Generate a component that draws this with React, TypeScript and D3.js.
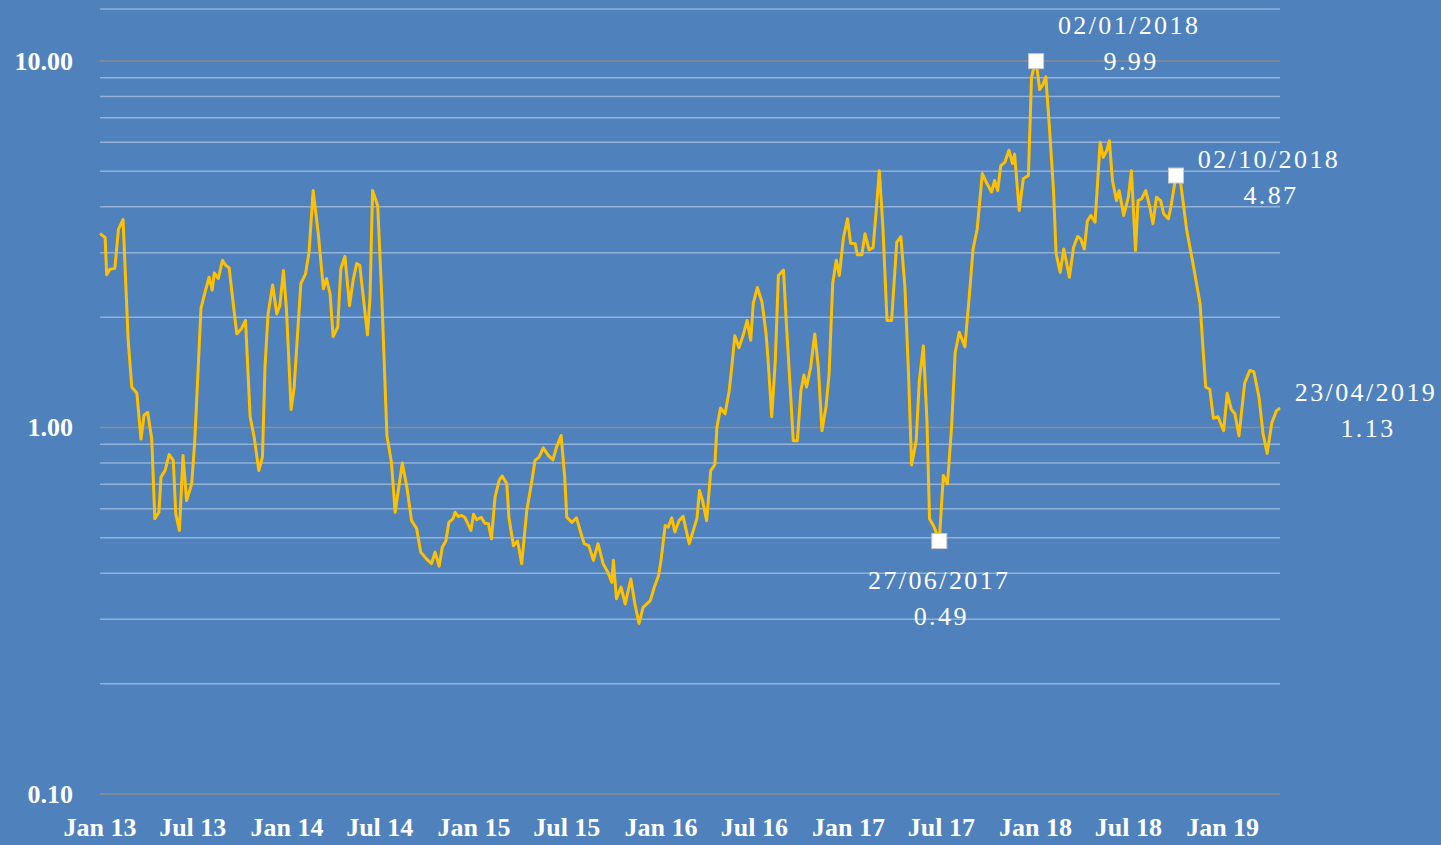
import { useEffect, useRef } from 'react';
import * as d3 from 'd3';

// weekly reading, traced at the turning points
const dates = [
  '2013-01-01', '2013-01-11', '2013-01-14', '2013-01-20', '2013-01-30', '2013-02-06', '2013-02-15', '2013-02-25',
  '2013-03-04', '2013-03-14', '2013-03-22', '2013-03-28', '2013-04-04', '2013-04-12', '2013-04-18', '2013-04-26',
  '2013-04-30', '2013-05-08', '2013-05-16', '2013-05-24', '2013-05-29', '2013-06-05', '2013-06-12', '2013-06-19',
  '2013-06-29', '2013-07-05', '2013-07-12', '2013-07-17', '2013-07-25', '2013-08-02', '2013-08-08', '2013-08-12',
  '2013-08-20', '2013-08-28', '2013-09-03', '2013-09-10', '2013-09-18', '2013-09-25', '2013-10-04', '2013-10-12',
  '2013-10-21', '2013-10-29', '2013-11-07', '2013-11-14', '2013-11-19', '2013-11-25', '2013-12-04', '2013-12-12',
  '2013-12-18', '2013-12-25', '2013-12-31',
  '2014-01-09', '2014-01-15', '2014-01-22', '2014-01-28', '2014-02-06', '2014-02-13', '2014-02-21', '2014-03-03',
  '2014-03-13', '2014-03-19', '2014-03-26', '2014-04-01', '2014-04-10', '2014-04-16', '2014-04-24', '2014-05-03',
  '2014-05-10', '2014-05-17', '2014-05-23', '2014-06-07', '2014-06-12', '2014-06-17', '2014-06-27', '2014-07-05',
  '2014-07-15', '2014-07-24', '2014-07-31', '2014-08-14', '2014-08-23', '2014-09-01', '2014-09-11', '2014-09-19',
  '2014-09-30', '2014-10-10', '2014-10-17', '2014-10-25', '2014-10-31', '2014-11-07', '2014-11-13', '2014-11-21',
  '2014-11-25', '2014-12-01', '2014-12-08', '2014-12-14', '2014-12-26', '2014-12-31',
  '2015-01-06', '2015-01-15', '2015-01-22', '2015-01-29', '2015-02-04', '2015-02-11', '2015-02-19', '2015-02-25',
  '2015-03-06', '2015-03-10', '2015-03-19', '2015-03-27', '2015-04-04', '2015-04-14', '2015-04-24', '2015-04-30',
  '2015-05-08', '2015-05-16', '2015-05-26', '2015-06-04', '2015-06-11', '2015-06-20', '2015-06-27', '2015-07-01',
  '2015-07-11', '2015-07-20', '2015-07-27', '2015-08-04', '2015-08-13', '2015-08-22', '2015-08-31', '2015-09-10',
  '2015-09-19', '2015-09-27', '2015-09-30', '2015-10-06', '2015-10-15', '2015-10-23', '2015-11-03', '2015-11-11',
  '2015-11-19', '2015-11-27', '2015-12-11', '2015-12-19', '2015-12-27',
  '2016-01-01', '2016-01-09', '2016-01-15', '2016-01-22', '2016-01-28', '2016-02-05', '2016-02-13', '2016-02-25',
  '2016-03-04', '2016-03-11', '2016-03-16', '2016-03-22', '2016-03-30', '2016-04-07', '2016-04-15', '2016-04-19',
  '2016-04-26', '2016-05-05', '2016-05-13', '2016-05-18', '2016-05-24', '2016-06-01', '2016-06-10', '2016-06-17',
  '2016-06-24', '2016-06-29', '2016-07-07', '2016-07-16', '2016-07-24', '2016-07-28', '2016-08-04', '2016-08-11',
  '2016-08-17', '2016-08-27', '2016-09-02', '2016-09-09', '2016-09-15', '2016-09-23', '2016-09-30', '2016-10-06',
  '2016-10-11', '2016-10-19', '2016-10-27', '2016-11-03', '2016-11-10', '2016-11-18', '2016-11-24', '2016-12-01',
  '2016-12-08', '2016-12-14', '2016-12-22', '2016-12-30',
  '2017-01-05', '2017-01-14', '2017-01-18', '2017-01-27', '2017-02-02', '2017-02-10', '2017-02-18', '2017-02-25',
  '2017-03-02', '2017-03-09', '2017-03-17', '2017-03-26', '2017-04-05', '2017-04-13', '2017-04-21', '2017-04-28',
  '2017-05-04', '2017-05-13', '2017-05-19', '2017-05-27', '2017-06-03', '2017-06-08', '2017-06-17', '2017-06-27',
  '2017-07-05', '2017-07-13', '2017-07-21', '2017-07-28', '2017-08-05', '2017-08-16', '2017-08-25', '2017-09-01',
  '2017-09-09', '2017-09-19', '2017-09-27', '2017-10-07', '2017-10-13', '2017-10-19', '2017-10-25', '2017-11-02',
  '2017-11-10', '2017-11-17', '2017-11-21', '2017-11-30', '2017-12-08', '2017-12-18', '2017-12-24', '2017-12-27',
  '2018-01-02', '2018-01-09', '2018-01-15', '2018-01-21', '2018-01-28', '2018-02-05', '2018-02-10', '2018-02-18',
  '2018-02-25', '2018-03-08', '2018-03-16', '2018-03-24', '2018-03-30', '2018-04-06', '2018-04-12', '2018-04-19',
  '2018-04-27', '2018-05-07', '2018-05-13', '2018-05-20', '2018-05-25', '2018-05-31', '2018-06-08', '2018-06-13',
  '2018-06-22', '2018-07-01', '2018-07-07', '2018-07-15', '2018-07-20', '2018-07-27', '2018-08-04', '2018-08-12',
  '2018-08-18', '2018-08-25', '2018-09-02', '2018-09-08', '2018-09-17', '2018-09-22', '2018-10-02', '2018-10-11',
  '2018-10-23', '2018-11-03', '2018-11-18', '2018-11-24', '2018-11-29', '2018-12-07', '2018-12-14', '2018-12-23',
  '2019-01-03', '2019-01-10', '2019-01-18', '2019-01-25', '2019-02-02', '2019-02-13', '2019-02-23', '2019-03-03',
  '2019-03-13', '2019-03-21', '2019-03-29', '2019-04-07', '2019-04-16', '2019-04-23',
];

const values = [
  3.38, 3.30, 2.61, 2.70, 2.72, 3.47, 3.69, 1.73,
  1.29, 1.24, 0.93, 1.08, 1.10, 0.93, 0.564, 0.587,
  0.732, 0.763, 0.844, 0.813, 0.58, 0.524, 0.839, 0.632,
  0.702, 0.921, 1.49, 2.11, 2.34, 2.57, 2.37, 2.64,
  2.55, 2.86, 2.77, 2.73, 2.18, 1.80, 1.86, 1.96,
  1.07, 0.94, 0.763, 0.83, 1.46, 2.04, 2.45, 2.04,
  2.15, 2.68, 2.09,
  1.12, 1.29, 1.84, 2.47, 2.62, 3.01, 4.43, 3.38,
  2.39, 2.55, 2.32, 1.77, 1.88, 2.71, 2.93, 2.15,
  2.52, 2.80, 2.77, 1.79, 2.27, 4.43, 4.03, 2.27,
  0.95, 0.80, 0.587, 0.80, 0.687, 0.557, 0.53, 0.457,
  0.438, 0.425, 0.457, 0.418, 0.471, 0.49, 0.551, 0.564,
  0.587, 0.572, 0.575, 0.569, 0.524, 0.58,
  0.56, 0.569, 0.548, 0.546, 0.497, 0.646, 0.717, 0.737,
  0.702, 0.569, 0.476, 0.49, 0.425, 0.594, 0.717, 0.813,
  0.83, 0.88, 0.839, 0.816, 0.884, 0.951, 0.732, 0.569,
  0.551, 0.567, 0.524, 0.482, 0.476, 0.434, 0.482, 0.425,
  0.403, 0.378, 0.434, 0.341, 0.367, 0.33, 0.386, 0.33,
  0.292, 0.323, 0.337, 0.367, 0.394,
  0.434, 0.54, 0.535, 0.567, 0.519, 0.557, 0.572, 0.482,
  0.524, 0.564, 0.673, 0.632, 0.557, 0.763, 0.792, 1.0,
  1.13, 1.09, 1.26, 1.46, 1.78, 1.65, 1.80, 1.96,
  1.73, 2.18, 2.41, 2.20, 1.80, 1.52, 1.07, 1.52,
  2.60, 2.69, 1.88, 1.29, 0.92, 0.92, 1.26, 1.39,
  1.29, 1.46, 1.80, 1.46, 0.98, 1.14, 1.40, 2.47,
  2.86, 2.60, 3.30, 3.71,
  3.18, 3.17, 2.96, 2.96, 3.38, 3.05, 3.10, 4.08,
  5.02, 3.52, 1.96, 1.96, 3.20, 3.32, 2.41, 1.40,
  0.79, 0.92, 1.34, 1.67, 1.04, 0.564, 0.535, 0.49,
  0.74, 0.702, 1.0, 1.60, 1.82, 1.66, 2.32, 3.07,
  3.48, 4.93, 4.66, 4.39, 4.72, 4.43, 5.18, 5.29,
  5.71, 5.25, 5.57, 3.91, 4.77, 4.87, 9.0, 9.4,
  9.99, 8.36, 8.6, 9.05, 6.59, 4.43, 2.98, 2.65,
  3.07, 2.57, 3.10, 3.32, 3.27, 3.07, 3.66, 3.79,
  3.63, 6.0, 5.46, 5.70, 6.06, 4.72, 4.16, 4.43,
  3.79, 4.25, 5.02, 3.04, 4.16, 4.21, 4.43, 3.99,
  3.60, 4.25, 4.16, 3.83, 3.71, 3.99, 4.87, 4.66,
  3.45, 2.86, 2.18, 1.62, 1.29, 1.27, 1.06, 1.07,
  0.98, 1.24, 1.12, 1.09, 0.95, 1.32, 1.43, 1.42,
  1.21, 0.96, 0.85, 1.03, 1.11, 1.13,
];

const yTickValues = [0.1, 1, 10];
const markedDates = ['2017-06-27', '2018-01-02', '2018-10-02'];
const labelledDates = ['2017-06-27', '2018-01-02', '2018-10-02', '2019-04-23'];

// label offsets from the point: [dx, dy of date line, dy of value line]
const labelOffsets: Record<string, [number, number, number]> = {
  '2017-06-27': [0, 39, 75],
  '2018-01-02': [93, -36, 0],
  '2018-10-02': [93, -16, 20],
  '2019-04-23': [86, -16, 20],
};

const W = 1441;
const H = 845;

const App = () => {
  const svgRef = useRef<SVGSVGElement>(null);

  useEffect(() => {
    if (!svgRef.current) return;
    document.body.style.margin = '0';

    const svg = d3.select(svgRef.current);
    svg.selectAll('*').remove();

    const parse = d3.timeParse('%Y-%m-%d');
    const data = dates.map((d, i) => ({ key: d, date: parse(d) as Date, value: values[i] }));

    const left = 100;
    const right = 1280;
    const plotTop = 9;

    const x = d3.scaleTime()
      .domain(d3.extent(data, d => d.date) as [Date, Date])
      .range([left, right]);

    const y = d3.scaleLog()
      .domain([0.1, 10])
      .range([794, 61]);

    svg.append('rect')
      .attr('width', W)
      .attr('height', H)
      .attr('fill', '#4F81BD');

    // minor gridlines (2..9 of each decade) and plot top
    const minor = y.ticks().filter(t => !yTickValues.some(m => Math.abs(m - t) < 1e-9));
    svg.append('g')
      .selectAll('line')
      .data(minor)
      .enter()
      .append('line')
      .attr('x1', left)
      .attr('x2', right)
      .attr('y1', d => y(d))
      .attr('y2', d => y(d))
      .attr('stroke', '#93b1d7')
      .attr('stroke-width', 1.5);

    svg.append('line')
      .attr('x1', left)
      .attr('x2', right)
      .attr('y1', plotTop)
      .attr('y2', plotTop)
      .attr('stroke', '#93b1d7')
      .attr('stroke-width', 1.5);

    svg.append('g')
      .selectAll('line')
      .data(yTickValues)
      .enter()
      .append('line')
      .attr('x1', left)
      .attr('x2', right)
      .attr('y1', d => y(d))
      .attr('y2', d => y(d))
      .attr('stroke', '#8c8e94')
      .attr('stroke-width', 1.5);

    const axisFont = "'Liberation Serif', 'Times New Roman', serif";

    svg.append('g')
      .selectAll('text')
      .data(yTickValues)
      .enter()
      .append('text')
      .attr('x', 73)
      .attr('y', d => y(d))
      .attr('text-anchor', 'end')
      .attr('dominant-baseline', 'central')
      .attr('font-family', axisFont)
      .attr('font-weight', 'bold')
      .attr('font-size', 26)
      .attr('fill', '#fff')
      .text(d => d3.format('.2f')(d));

    const xTicks = x.ticks(d3.timeMonth.every(6) as d3.TimeInterval);
    svg.append('g')
      .selectAll('text')
      .data(xTicks)
      .enter()
      .append('text')
      .attr('x', d => x(d))
      .attr('y', 836)
      .attr('text-anchor', 'middle')
      .attr('font-family', axisFont)
      .attr('font-weight', 'bold')
      .attr('font-size', 26)
      .attr('fill', '#fff')
      .text(d => d3.timeFormat('%b %y')(d));

    const line = d3.line<{ date: Date; value: number }>()
      .x(d => x(d.date))
      .y(d => y(d.value));

    svg.append('path')
      .datum(data)
      .attr('fill', 'none')
      .attr('stroke', '#FFC000')
      .attr('stroke-width', 3)
      .attr('stroke-linejoin', 'round')
      .attr('d', line);

    const marked = data.filter(d => markedDates.includes(d.key));
    svg.append('g')
      .selectAll('rect')
      .data(marked)
      .enter()
      .append('rect')
      .attr('x', d => x(d.date) - 7.5)
      .attr('y', d => y(d.value) - 7.5)
      .attr('width', 15)
      .attr('height', 15)
      .attr('fill', '#fff')
      .attr('stroke', '#c8c8c8')
      .attr('stroke-width', 1);

    const labelled = data.filter(d => labelledDates.includes(d.key));
    const labels = svg.append('g')
      .attr('font-family', axisFont)
      .attr('font-size', 26)
      .attr('fill', '#fff')
      .attr('text-anchor', 'middle')
      .attr('letter-spacing', 2.4);

    labelled.forEach(d => {
      const [dx, dy1, dy2] = labelOffsets[d.key];
      const px = x(d.date) + dx;
      const py = y(d.value);
      labels.append('text')
        .attr('x', px)
        .attr('y', py + dy1)
        .attr('dominant-baseline', 'central')
        .text(d3.timeFormat('%d/%m/%Y')(d.date));
      labels.append('text')
        .attr('x', px + 2)
        .attr('y', py + dy2)
        .attr('dominant-baseline', 'central')
        .text(d3.format('.2f')(d.value));
    });
  }, []);

  return (
    <div style={{ width: W, height: H }}>
      <svg ref={svgRef} width={W} height={H} style={{ display: 'block' }} />
    </div>
  );
};

export default App;
